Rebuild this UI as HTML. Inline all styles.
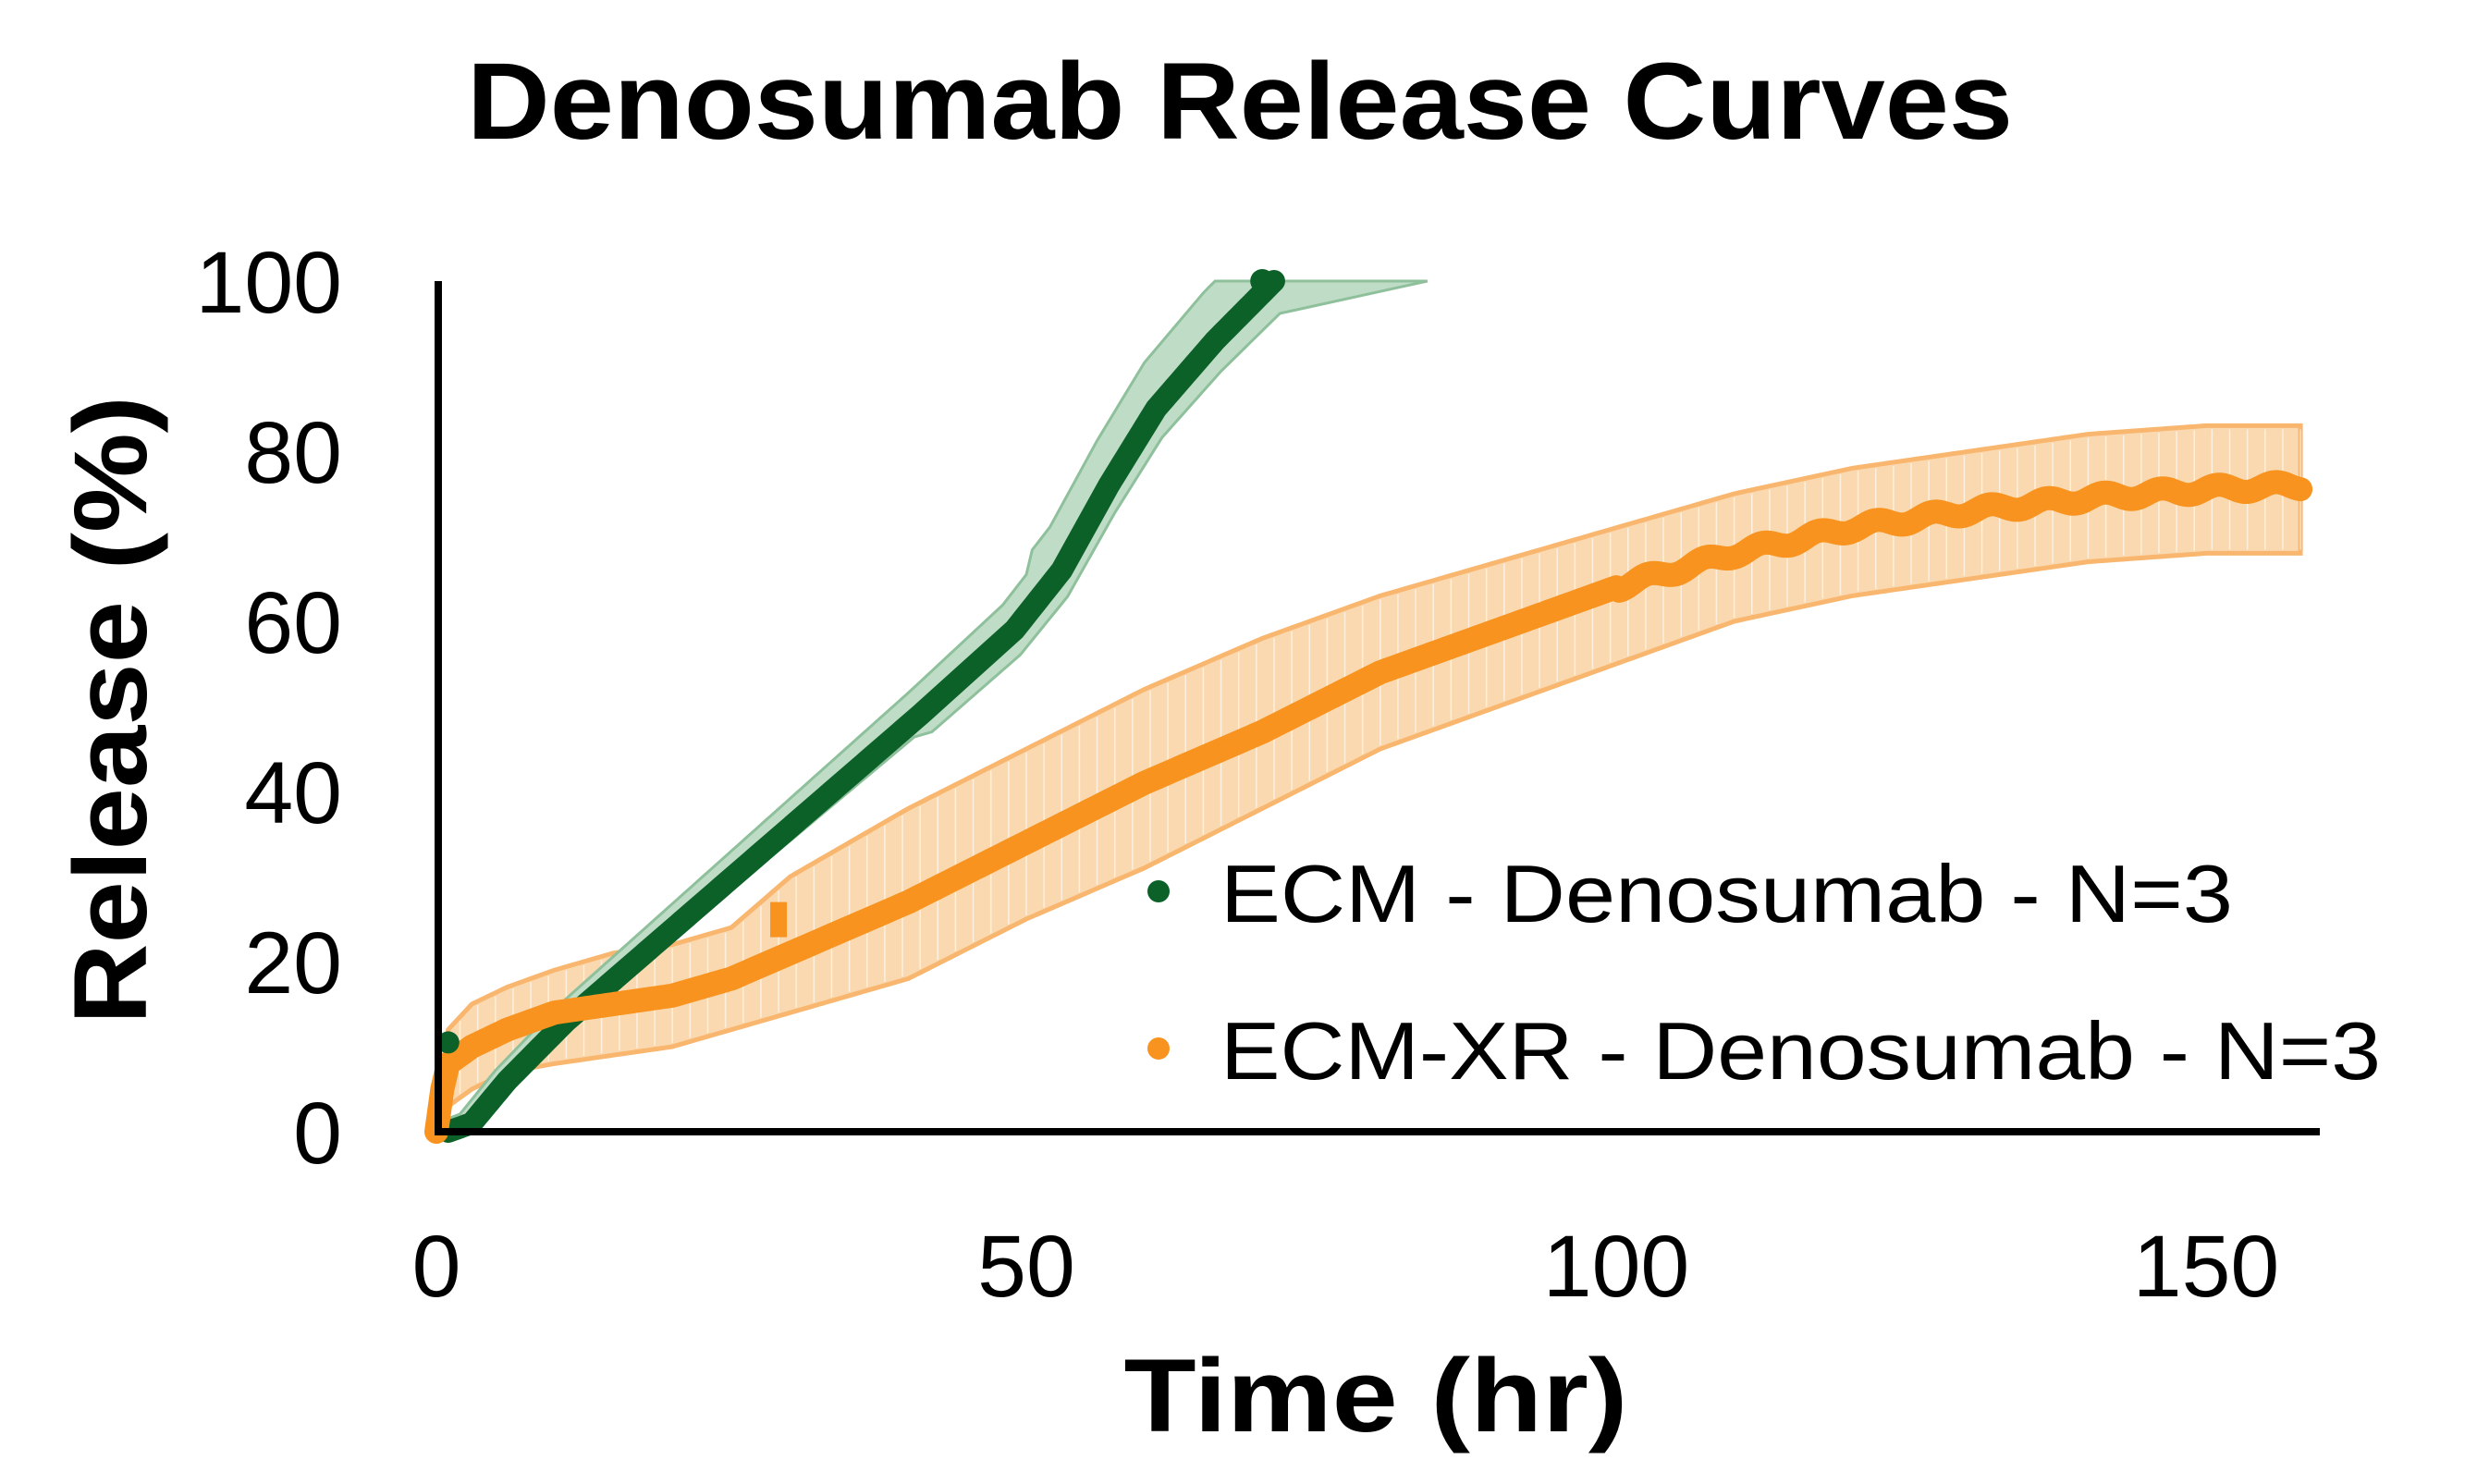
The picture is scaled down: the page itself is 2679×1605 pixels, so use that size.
<!DOCTYPE html>
<html><head><meta charset="utf-8"><style>
html,body{margin:0;padding:0;background:#fff;}
svg{display:block;}
text{font-family:"Liberation Sans",sans-serif;fill:#000;}
</style></head><body>
<svg id="s" width="2679" height="1605" viewBox="0 0 2679 1605" xmlns="http://www.w3.org/2000/svg">
<text x="1341" y="150" font-size="118" font-weight="bold" text-anchor="middle" textLength="1672" lengthAdjust="spacingAndGlyphs">Denosumab Release Curves</text>
<g font-size="95" text-anchor="end">
<text x="370" y="1258">0</text>
<text x="370" y="1074">20</text>
<text x="370" y="890">40</text>
<text x="370" y="706">60</text>
<text x="370" y="522">80</text>
<text x="370" y="338">100</text>
</g>
<g font-size="95" text-anchor="middle">
<text x="472" y="1402">0</text>
<text x="1110" y="1402">50</text>
<text x="1748" y="1402">100</text>
<text x="2386" y="1402">150</text>
</g>
<text x="1488" y="1548" font-size="112" font-weight="bold" text-anchor="middle" textLength="545" lengthAdjust="spacingAndGlyphs">Time (hr)</text>
<text transform="translate(158,768) rotate(-90)" font-size="112" font-weight="bold" text-anchor="middle" textLength="680" lengthAdjust="spacingAndGlyphs">Release (%)</text>
<g id="data"></g>
<line x1="474" y1="304" x2="474" y2="1228" stroke="#000" stroke-width="8"/>
<line x1="470" y1="1224" x2="2509" y2="1224" stroke="#000" stroke-width="8"/>
<circle cx="1253" cy="964" r="12" fill="#0B6128"/>
<circle cx="1253" cy="1134" r="12" fill="#F7931E"/>
<text x="1320" y="997" font-size="88" textLength="1095" lengthAdjust="spacingAndGlyphs">ECM - Denosumab - N=3</text>
<text x="1320" y="1167" font-size="88" textLength="1255" lengthAdjust="spacingAndGlyphs">ECM-XR - Denosumab - N=3</text>
</svg>
<script>
(function(){
var X=function(t){return 472+t*12.76;},Y=function(v){return 1224-v*9.2;};
function interp(pts,t){for(var i=1;i<pts.length;i++){if(t<=pts[i][0]){var a=pts[i-1],b=pts[i];return a[1]+(b[1]-a[1])*(t-a[0])/(b[0]-a[0]);}}return pts[pts.length-1][1];}
var G=[[0,0],[2,1],[5,6],[10,13],[20,25],[30,37],[40,49],[48,59],[52,66],[56,76],[60,85],[65,93],[70,100]];
var O=[[0,0],[0.5,5],[1,8],[3,10],[6,12],[10,14],[15,15],[20,16],[25,18],[30,21],[40,27],[50,34],[60,41],[70,47],[80,54],[90,59],[100,64],[110,68],[120,71],[130,73],[140,74.5],[150,75.5],[158,76]];
var OU=[[0,0],[1,12],[3,15],[6,17],[10,19],[15,21],[20,22],[25,24],[30,30],[40,38],[50,45],[60,52],[70,58],[80,63],[90,67],[100,71],[110,75],[120,78],[130,80],[140,82],[150,83],[158,83]];
var OL=[[0,0],[1,3],[3,5],[6,7],[10,8],[15,9],[20,10],[25,12],[30,14],[40,18],[50,25],[60,31],[70,38],[80,45],[90,50],[100,55],[110,60],[120,63],[130,65],[140,67],[150,68],[158,68]];
var g=document.getElementById('data'),ns='http://www.w3.org/2000/svg';
function el(n,a){var e=document.createElementNS(ns,n);for(var k in a)e.setAttribute(k,a[k]);g.appendChild(e);return e;}
var up=[],lo=[],t;
for(t=0;t<=158;t+=0.5){up.push(X(t)+','+Y(interp(OU,t)));lo.push(X(t)+','+Y(interp(OL,t)));}
el('polygon',{points:up.concat(lo.reverse()).join(' '),fill:'#FAD9B0',stroke:'#F8B66E','stroke-width':'5'});
for(t=2;t<=158;t+=1.5){el('line',{x1:X(t),x2:X(t),y1:Y(interp(OU,t))+4,y2:Y(interp(OL,t))-4,stroke:'#fff','stroke-width':'1.5','stroke-opacity':'0.6'});}
up=[];lo=[];
for(t=0;t<=84;t+=0.5){var tt=Math.min(t,70);var v2=interp(G,tt);var bw=1+t*0.04;var u=t>70?100:v2+bw+ (t>50?2:0);up.push(X(t)+','+Y(Math.min(u,100)));}
for(t=70;t>=0;t-=0.5){var v3=interp(G,t);lo.push(X(t+(t>40?1.5:0.5))+','+Y(Math.max(v3-1-t*0.04,0)));}
el('polygon',{points:up.concat(lo).join(' '),fill:'#BFDCC6',stroke:'#8FC09C','stroke-width':'3'});
var p=[];for(t=0;t<=70;t+=0.25)p.push(X(t+1)+','+Y(interp(G,t)));
el('polyline',{points:p.join(' '),fill:'none',stroke:'#0B6128','stroke-width':'24','stroke-linecap':'round','stroke-linejoin':'round'});
p=[];for(t=0;t<=158;t+=0.25){var w=(t>100)?Math.sin(t*1.3)*0.5:0;p.push(X(t)+','+Y(interp(O,t)+w));}
el('polyline',{points:p.join(' '),fill:'none',stroke:'#F7931E','stroke-width':'26','stroke-linecap':'round','stroke-linejoin':'round'});
el('circle',{cx:X(1),cy:Y(10.5),r:12,fill:'#0B6128'});
el('circle',{cx:X(70),cy:Y(100),r:13,fill:'#0B6128'});
el('rect',{x:X(29)-9,y:Y(27),width:18,height:38,fill:'#F7931E'});
})();
</script>
</body></html>
